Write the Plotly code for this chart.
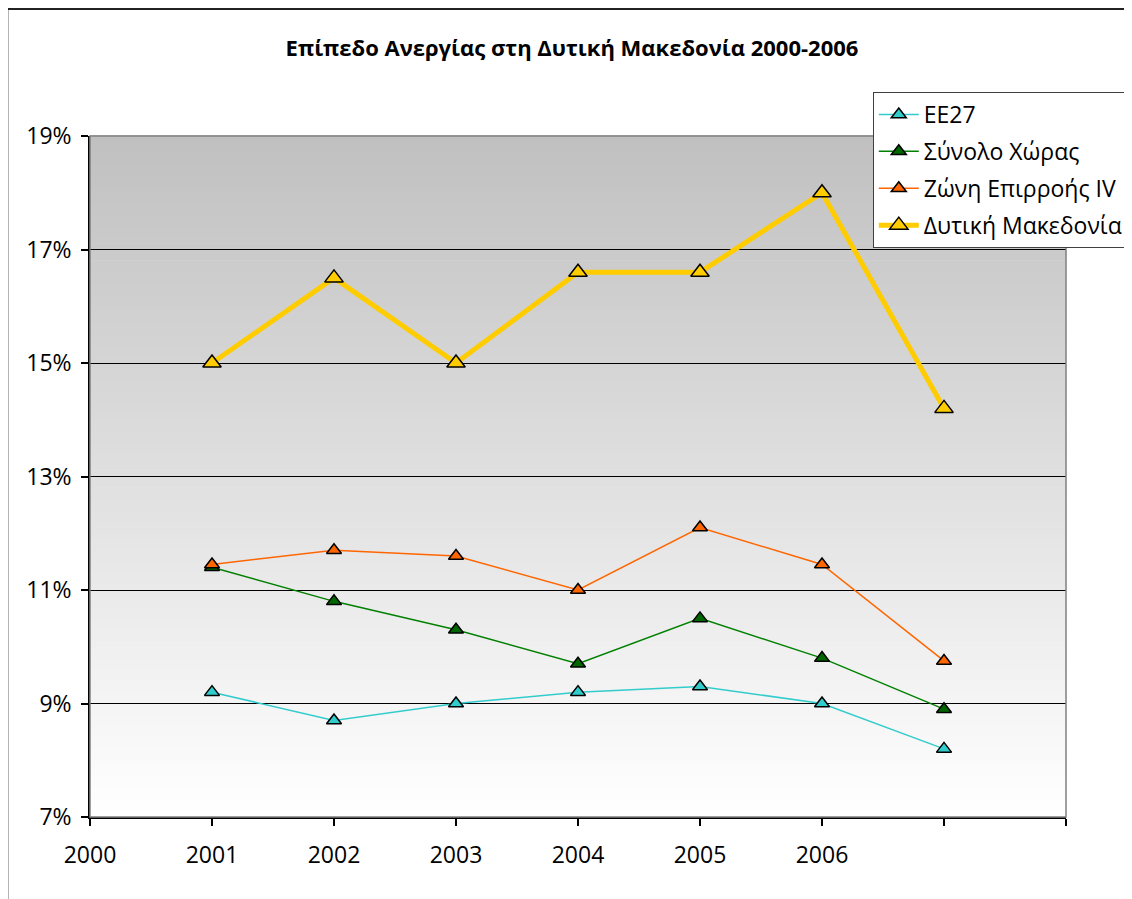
import plotly.graph_objects as go

years = [2001, 2002, 2003, 2004, 2005, 2006, 2007]
tick_vals = [2000, 2001, 2002, 2003, 2004, 2005, 2006, 2007, 2008]
tick_text = ["2000", "2001", "2002", "2003", "2004", "2005", "2006", "", ""]

ee27 = [9.2, 8.7, 9.0, 9.2, 9.3, 9.0, 8.2]
synolo = [11.4, 10.8, 10.3, 9.7, 10.5, 9.8, 8.9]
zoni_iv = [11.45, 11.7, 11.6, 11.0, 12.1, 11.45, 9.75]
dyt_mak = [15.0, 16.5, 15.0, 16.6, 16.6, 18.0, 14.2]

names = ["ΕΕ27", "Σύνολο Χώρας", "Ζώνη Επιρροής IV", "Δυτική Μακεδονία"]
series = [ee27, synolo, zoni_iv, dyt_mak]
line_colors = ["#33CCCC", "#008000", "#FF6600", "#FFCC00"]
marker_colors = ["#33CCCC", "#006600", "#FF6600", "#FFCC00"]
line_widths = [1.5, 1.5, 1.5, 5]
marker_sizes = [13, 13, 13, 16]

FONT = "Open Sans"
OFF = 8  # page body offset
W, H = 1132, 899
PL, PR, PT, PB = 90 - OFF, 1070 - OFF, 136 - OFF, 817 - OFF
PW, PH = PR - PL, PB - PT

fig = go.Figure()
for i, (nm, vals) in enumerate(zip(names, series)):
    fig.add_trace(go.Scatter(
        x=years, y=vals, name=nm, mode="lines+markers",
        legendgroup=nm,
        line=dict(color=line_colors[i], width=line_widths[i]),
        marker=dict(symbol="triangle-up", size=marker_sizes[i], color=marker_colors[i],
                    line=dict(color="black", width=1.5)),
    ))

# gradient background bands
shapes = []
N = 120
for k in range(N):
    t0 = k / N
    t1 = (k + 1) / N
    tm = (k + 0.5) / N  # 0 bottom, 1 top
    c = int(round(255 - (255 - 192) * tm))
    shapes.append(dict(type="rect", xref="x domain", yref="y domain",
                       x0=0, x1=1, y0=t0, y1=t1 + 0.001, layer="below",
                       line=dict(width=0), fillcolor=f"rgb({c},{c},{c})"))
# plot-area border (gray)
shapes.append(dict(type="rect", xref="x domain", yref="y domain", x0=0, x1=1, y0=0, y1=1,
                   layer="above", line=dict(color="#808080", width=1.5), fillcolor="rgba(0,0,0,0)"))
# outer chart border
shapes.append(dict(type="rect", xref="paper", yref="paper",
                   x0=(7 - OFF - PL) / PW, x1=1.3, y0=-0.3,
                   y1=(PB - (9 - OFF)) / PH,
                   layer="above", line=dict(color="#222222", width=2), fillcolor="rgba(0,0,0,0)"))

fig.update_layout(
    width=W, height=H,
    margin=dict(l=PL, r=W - PR, t=PT, b=H - PB),
    paper_bgcolor="white", plot_bgcolor="white",
    font=dict(family=FONT, color="black"),
    title=dict(text="<b>Επίπεδο Ανεργίας στη Δυτική Μακεδονία 2000-2006</b>",
               x=(572 - OFF) / W, xref="container", xanchor="center",
               y=1 - (48 - OFF) / H, yref="container", yanchor="middle",
               font=dict(family=FONT, size=22, color="black")),
    showlegend=True,
    legend=dict(x=(876 - OFF - PL) / PW, y=(PB - (92 - OFF)) / PH, xanchor="left", yanchor="top",
                bgcolor="white", bordercolor="#404040", borderwidth=1,
                font=dict(family=FONT, size=23, color="black"),
                tracegroupgap=4, itemwidth=40),
    shapes=shapes,
)
fig.update_xaxes(range=[2000, 2008], tickvals=tick_vals, ticktext=tick_text,
                 showgrid=False, zeroline=False, showline=True, linecolor="black", linewidth=1.5,
                 ticks="outside", ticklen=7, tickcolor="black", tickwidth=1.5,
                 ticklabelstandoff=10,
                 tickfont=dict(family=FONT, size=23, color="black"))
fig.update_yaxes(range=[7, 19], dtick=2, tick0=7, ticksuffix="%",
                 showgrid=True, gridcolor="black", gridwidth=1, zeroline=False,
                 showline=True, linecolor="black", linewidth=1.5,
                 ticks="outside", ticklen=7, tickcolor="black", tickwidth=1.5,
                 ticklabelstandoff=5,
                 tickfont=dict(family=FONT, size=23, color="black"))

fig.write_html("out.html")
